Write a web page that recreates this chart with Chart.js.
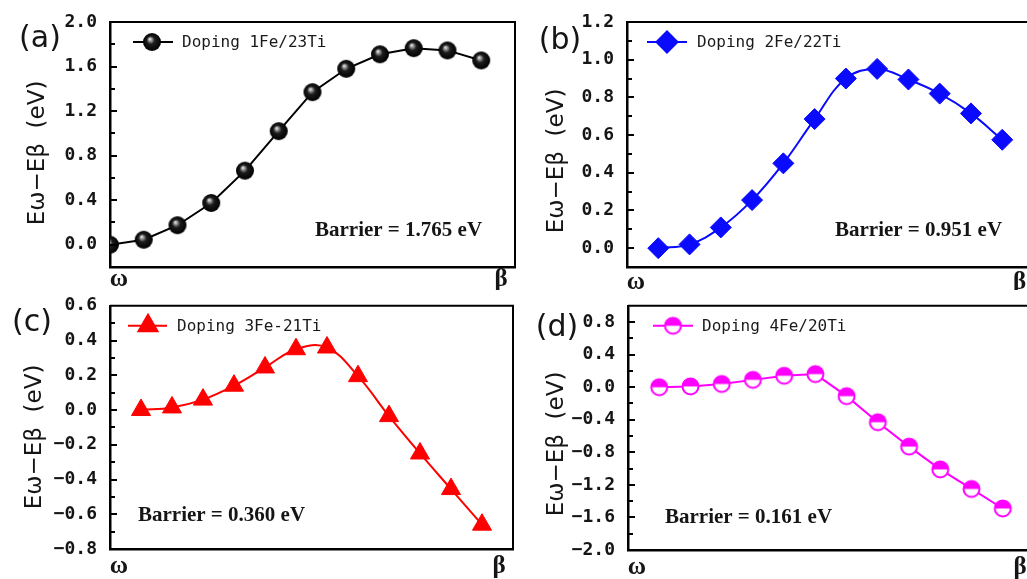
<!DOCTYPE html>
<html>
<head>
<meta charset="utf-8">
<script src="https://cdn.jsdelivr.net/npm/chart.js@4.4.1/dist/chart.umd.min.js"></script>
<style>
  html, body { margin: 0; padding: 0; background: #fff; overflow: hidden; width: 1027px; height: 579px; }
  .panel { position: absolute; }
</style>
</head>
<body>
<div class="panel" style="left:0;top:0"><canvas id="chartA" width="525" height="290"></canvas></div>
<div class="panel" style="left:520px;top:0"><canvas id="chartB" width="525" height="290"></canvas></div>
<div class="panel" style="left:0;top:290px"><canvas id="chartC" width="525" height="289"></canvas></div>
<div class="panel" style="left:520px;top:290px"><canvas id="chartD" width="525" height="289"></canvas></div>
<script>
// ── DATA ───────────────────────────────────────────────────────────────────
const steps   = [0, 1, 2, 3, 4, 5, 6, 7, 8, 9, 10, 11];
const energyA = [0.00, 0.045, 0.175, 0.375, 0.665, 1.02, 1.37, 1.58, 1.71, 1.765, 1.745, 1.655];
const energyB = [0.00, 0.02, 0.11, 0.255, 0.45, 0.685, 0.90, 0.951, 0.895, 0.82, 0.715, 0.575];
const energyC = [0.00, 0.015, 0.06, 0.14, 0.245, 0.35, 0.36, 0.195, -0.035, -0.25, -0.455, -0.66];
const energyD = [0.00, 0.01, 0.04, 0.09, 0.14, 0.161, -0.11, -0.43, -0.73, -1.01, -1.25, -1.49];
const seriesNames = ["Doping 1Fe/23Ti", "Doping 2Fe/22Ti", "Doping 3Fe-21Ti", "Doping 4Fe/20Ti"];
const barriers    = ["1.765", "0.951", "0.360", "0.161"];
const panelTags   = ["(a)", "(b)", "(c)", "(d)"];
const endLabels   = ["ω", "β"];
const yTitle      = "Eω−Eβ  (eV)";

const TEXT = "#151515";

// ── MARKER IMAGES ──────────────────────────────────────────────────────────
function makeSphere(r) {
  const c = document.createElement("canvas");
  c.width = c.height = 2 * r + 2;
  const g = c.getContext("2d");
  const cx = r + 1, cy = r + 1;
  const grad = g.createRadialGradient(cx - r * 0.25, cy - r * 0.35, 0, cx, cy, r);
  grad.addColorStop(0, "#ffffff");
  grad.addColorStop(0.16, "#a8a8a8");
  grad.addColorStop(0.45, "#1c1c1c");
  grad.addColorStop(1, "#000000");
  g.fillStyle = grad;
  g.beginPath(); g.arc(cx, cy, r, 0, Math.PI * 2); g.fill();
  return c;
}

function makeHalfDisc(r, color) {
  const c = document.createElement("canvas");
  c.width = c.height = 2 * r + 4;
  const g = c.getContext("2d");
  const cx = r + 2, cy = r + 2;
  g.fillStyle = "#fff";
  g.beginPath(); g.arc(cx, cy, r, 0, Math.PI * 2); g.fill();
  g.fillStyle = color;
  g.beginPath(); g.arc(cx, cy, r, Math.PI, Math.PI * 2); g.closePath(); g.fill();
  g.strokeStyle = color; g.lineWidth = 2;
  g.beginPath(); g.arc(cx, cy, r - 0.5, 0, Math.PI * 2); g.stroke();
  return c;
}

// ── DECORATION PLUGIN (frame, inward ticks, legend, labels) ────────────────
const panelDecor = {
  id: "panelDecor",
  afterDraw(chart, args, o) {
    const ctx = chart.ctx, a = chart.chartArea, y = chart.scales.y;
    ctx.save();

    // top + right frame
    ctx.strokeStyle = "#000"; ctx.lineWidth = 2;
    ctx.beginPath();
    ctx.moveTo(a.left, a.top); ctx.lineTo(a.right, a.top); ctx.lineTo(a.right, a.bottom);
    ctx.stroke();

    // inward y ticks, short ones between labelled values
    ctx.lineWidth = 2;
    ctx.beginPath();
    o.tickValues.forEach(v => {
      const py = Math.round(y.getPixelForValue(v));
      if (py < a.top + 2 || py > a.bottom - 2) return;
      const len = o.isMajor(v) ? 7 : 5;
      ctx.moveTo(a.left, py); ctx.lineTo(a.left + len, py);
    });
    ctx.stroke();

    // legend: line + marker + name
    const lg = o.legend, ly = a.top + lg.dy;
    ctx.strokeStyle = o.color; ctx.lineWidth = 2;
    ctx.beginPath(); ctx.moveTo(a.left + lg.x0, ly); ctx.lineTo(a.left + lg.x1, ly); ctx.stroke();
    ctx.fillStyle = o.color; ctx.strokeStyle = o.color;
    Chart.helpers.drawPoint(ctx, { pointStyle: o.marker, radius: o.radius, borderWidth: 1, rotation: 0 },
      a.left + lg.xm, ly);
    ctx.fillStyle = "#1a1a1a";
    ctx.font = "16px 'DejaVu Sans Mono'";
    ctx.textAlign = "left"; ctx.textBaseline = "middle";
    ctx.fillText(o.name, a.left + lg.xt, ly + 1);

    // barrier note
    ctx.fillStyle = TEXT;
    ctx.font = "bold 21px 'Liberation Serif'";
    ctx.fillText("Barrier = " + o.barrier + " eV", o.note[0], o.note[1]);

    // panel tag
    ctx.font = "30px 'DejaVu Sans'";
    ctx.textAlign = "center";
    ctx.fillText(o.tag, o.tagPos[0], o.tagPos[1]);

    // reaction path ends
    ctx.font = "bold 25px 'Liberation Serif'";
    ctx.fillText(endLabels[0], a.left + 9, o.endY);
    ctx.fillText(endLabels[1], a.right - 14, o.endY);

    // y axis title
    ctx.translate(o.titlePos[0], o.titlePos[1]);
    ctx.rotate(-Math.PI / 2);
    ctx.font = "23px 'DejaVu Sans'";
    ctx.fillText(yTitle, 0, 0);
    ctx.restore();
  }
};

function tickList(min, max, step) {
  const out = [];
  const n = Math.round((max - min) / step);
  for (let i = 0; i <= n; i++) out.push(Math.round((min + i * step) * 1000) / 1000);
  return out;
}

function fmtTick(v) {
  if (Math.abs(v) < 1e-9) v = 0;
  return (v < 0 ? "\u2212" : "") + Math.abs(v).toFixed(1);
}

// ── PANEL BUILDER ──────────────────────────────────────────────────────────
function buildPanel(id, p) {
  const cv = document.getElementById(id);
  const W = cv.width, H = cv.height;
  p.tickValues = tickList(p.yMin, p.yMax, p.step);
  p.isMajor = v => Math.abs(v / p.major - Math.round(v / p.major)) < 1e-6;
  return new Chart(cv.getContext("2d"), {
    type: "line",
    data: {
      datasets: [{
        label: p.name,
        data: steps.map((s, i) => ({ x: s, y: p.values[i] })),
        borderColor: p.color, borderWidth: 2, tension: p.tension,
        pointStyle: p.marker, pointRadius: p.radius, pointHoverRadius: p.radius,
        pointBackgroundColor: p.color, pointBorderColor: p.color, pointBorderWidth: 1,
      }],
    },
    options: {
      responsive: false, animation: false, events: [],
      layout: { padding: { left: 0, top: p.area.top, right: W - p.area.right, bottom: 0 } },
      plugins: {
        legend: { display: false },
        tooltip: { enabled: false },
        panelDecor: p,
      },
      scales: {
        x: {
          type: "linear", min: p.xMin, max: 12,
          ticks: { display: false }, grid: { display: false },
          border: { display: true, color: "#000", width: 2.5 },
          afterFit: s => { s.height = H - p.area.bottom; },
        },
        y: {
          min: p.yMin, max: p.yMax,
          afterBuildTicks: s => { s.ticks = p.tickValues.map(v => ({ value: v })); },
          ticks: {
            autoSkip: false, padding: 5, color: TEXT,
            font: { family: "'DejaVu Sans Mono'", size: 18, weight: "bold" },
            callback: v => p.isMajor(v) ? fmtTick(v) : "",
          },
          grid: { display: false },
          border: { display: true, color: "#000", width: 2.5 },
          afterFit: s => { s.width = p.area.left; },
        },
      },
    },
    plugins: [panelDecor],
  });
}

buildPanel("chartA", {
  name: seriesNames[0], values: energyA, barrier: barriers[0], tag: panelTags[0],
  color: "#000000", marker: makeSphere(9), radius: 9, tension: 0,
  xMin: 0, yMin: -0.2, yMax: 2.0, step: 0.2, major: 0.4,
  area: { left: 110, top: 22, right: 518, bottom: 267 },
  legend: { dy: 20, x0: 23, x1: 63, xm: 42, xt: 72 },
  note: [315, 231], tagPos: [40, 39], endY: 280, titlePos: [38, 153],
});

buildPanel("chartB", {
  name: seriesNames[1], values: energyB, barrier: barriers[1], tag: panelTags[1],
  color: "#0a0aff", marker: "rectRot", radius: 10.5, tension: 0.4,
  xMin: -1, yMin: -0.1, yMax: 1.2, step: 0.1, major: 0.2,
  area: { left: 107, top: 22, right: 514, bottom: 267 },
  legend: { dy: 20, x0: 20, x1: 60, xm: 40, xt: 70 },
  note: [315, 231], tagPos: [40, 41], endY: 283, titlePos: [37, 161],
});

buildPanel("chartC", {
  name: seriesNames[2], values: energyC, barrier: barriers[2], tag: panelTags[2],
  color: "#ff0000", marker: "triangle", radius: 11, tension: 0.4,
  xMin: -1, yMin: -0.8, yMax: 0.6, step: 0.1, major: 0.2,
  area: { left: 110, top: 15, right: 517, bottom: 259 },
  legend: { dy: 20, x0: 18, x1: 57, xm: 38, xt: 67 },
  note: [138, 226], tagPos: [32, 33], endY: 277, titlePos: [35, 147],
});

buildPanel("chartD", {
  name: seriesNames[3], values: energyD, barrier: barriers[3], tag: panelTags[3],
  color: "#ff00ff", marker: makeHalfDisc(8.5, "#ff00ff"), radius: 8.5, tension: 0,
  xMin: -1, yMin: -2.0, yMax: 1.0, step: 0.2, major: 0.4,
  area: { left: 108, top: 15, right: 514, bottom: 260 },
  legend: { dy: 20, x0: 25, x1: 65, xm: 45, xt: 74 },
  note: [145, 228], tagPos: [37, 38], endY: 278, titlePos: [37, 154],
});
</script>
</body>
</html>
